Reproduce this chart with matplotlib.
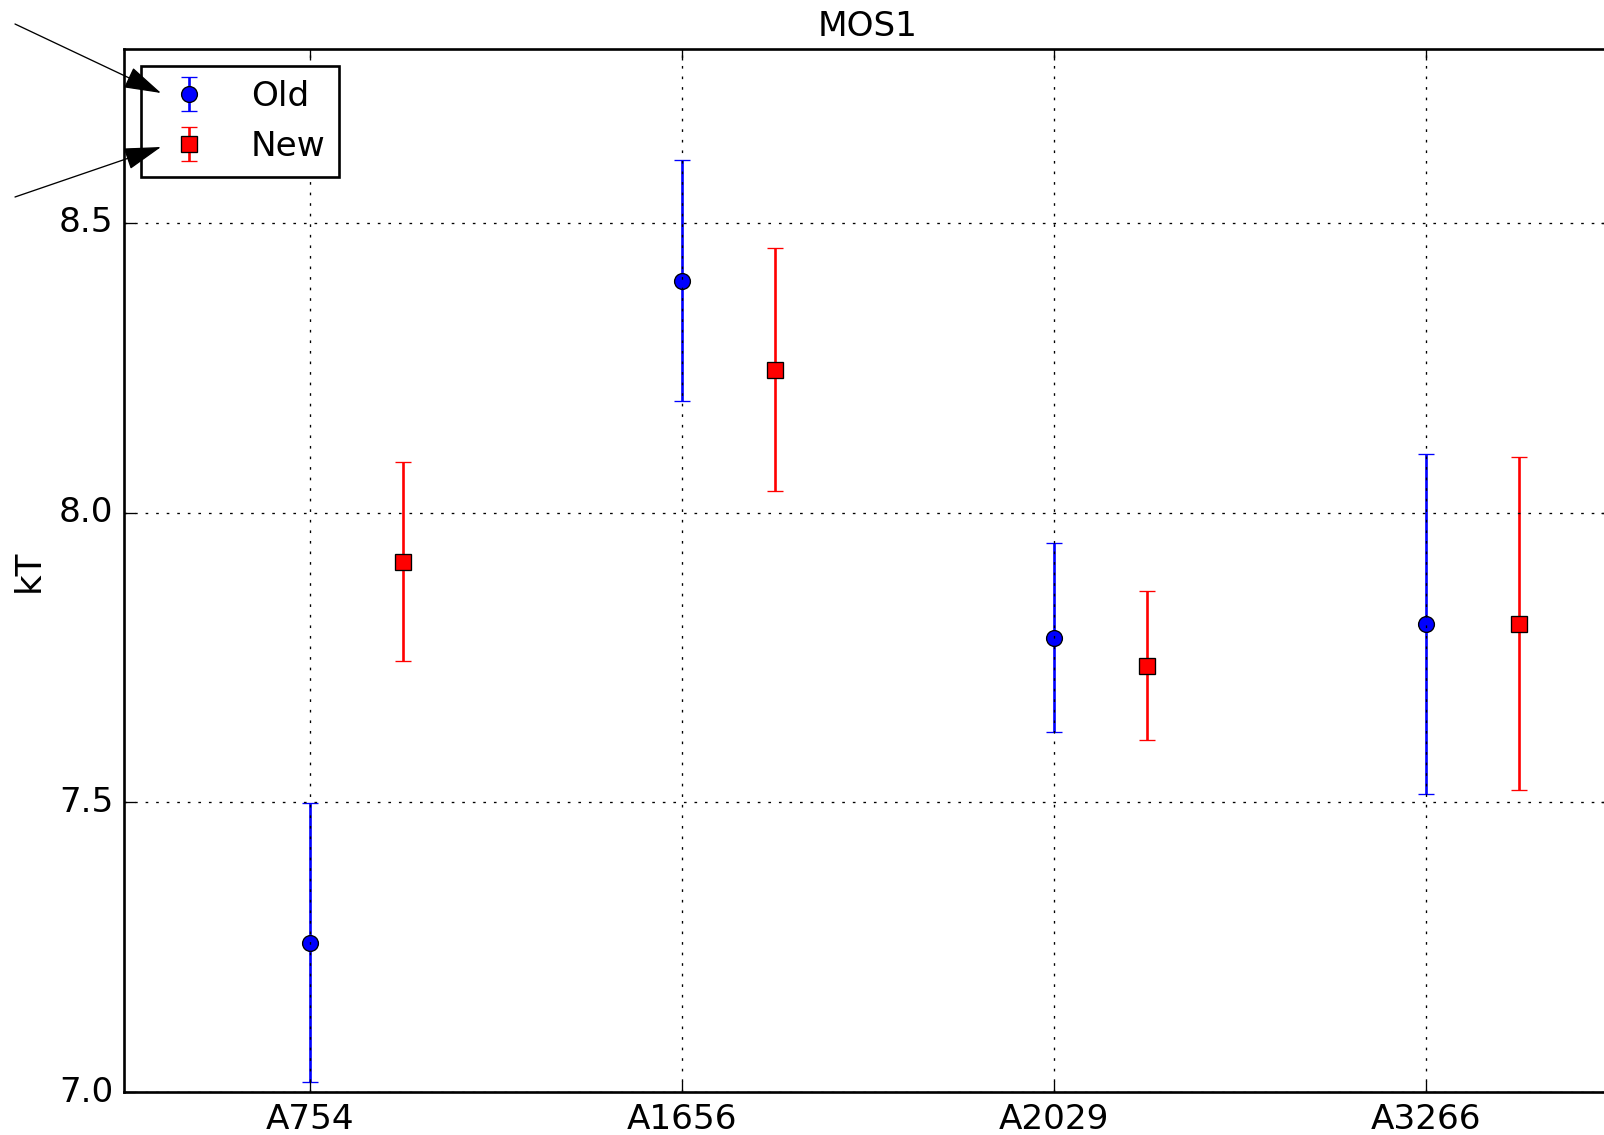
import matplotlib
matplotlib.use("Agg")
import matplotlib.pyplot as plt
import numpy as np

plt.style.use("classic")
plt.rcParams.update({
    "xtick.labelsize": 13,
    "ytick.labelsize": 13,
    "axes.titlesize": 13,
    "axes.labelsize": 13.5,
    "legend.fontsize": 13,
})

clusters = ["A754", "A1656", "A2029", "A3266"]

old_kt = [7.258, 8.399, 7.783, 7.808]
old_err_lo = [0.240, 0.206, 0.162, 0.293]
old_err_hi = [0.241, 0.210, 0.165, 0.293]

new_kt = [7.914, 8.246, 7.736, 7.808]
new_err_lo = [0.171, 0.208, 0.129, 0.287]
new_err_hi = [0.173, 0.210, 0.129, 0.288]

W, H, DPI = 1604, 1135, 190
fig = plt.figure(figsize=(W / DPI + 0.0001, H / DPI + 0.0001), dpi=DPI, facecolor="white")
ax = fig.add_axes([124 / W, 1 - 1092 / H, 1488 / W, (1092 - 49) / H])

x = np.arange(len(clusters))
ax.errorbar(x, old_kt, yerr=[old_err_lo, old_err_hi], fmt="o", color="blue",
            ecolor="blue", mec="black", label="Old", capsize=3)
ax.errorbar(x + 0.25, new_kt, yerr=[new_err_lo, new_err_hi], fmt="s", color="red",
            ecolor="red", mec="black", label="New", capsize=3)

ax.set_xlim(-0.5, 3.5)
ax.set_ylim(7.0, 8.8)
ax.set_xticks(x)
ax.set_xticklabels(clusters)
ax.set_yticks([7.0, 7.5, 8.0, 8.5])
ax.grid(True)
ax.set_ylabel("kT")
ax.set_title("MOS1")

leg = ax.legend(loc="upper left", numpoints=1)

arrow_style = "-|>,head_length=0.4,head_width=0.12"
for start, tip in [((15, H - 24), (161, H - 93)), ((15, H - 197), (161, H - 147))]:
    ax.annotate("", xy=tip, xycoords="figure pixels", xytext=start,
                textcoords="figure pixels",
                arrowprops=dict(arrowstyle=arrow_style, mutation_scale=31,
                                color="black", lw=0.5, shrinkA=0, shrinkB=0),
                zorder=10, annotation_clip=False)

fig.savefig("out.png", dpi=DPI, facecolor="white")
